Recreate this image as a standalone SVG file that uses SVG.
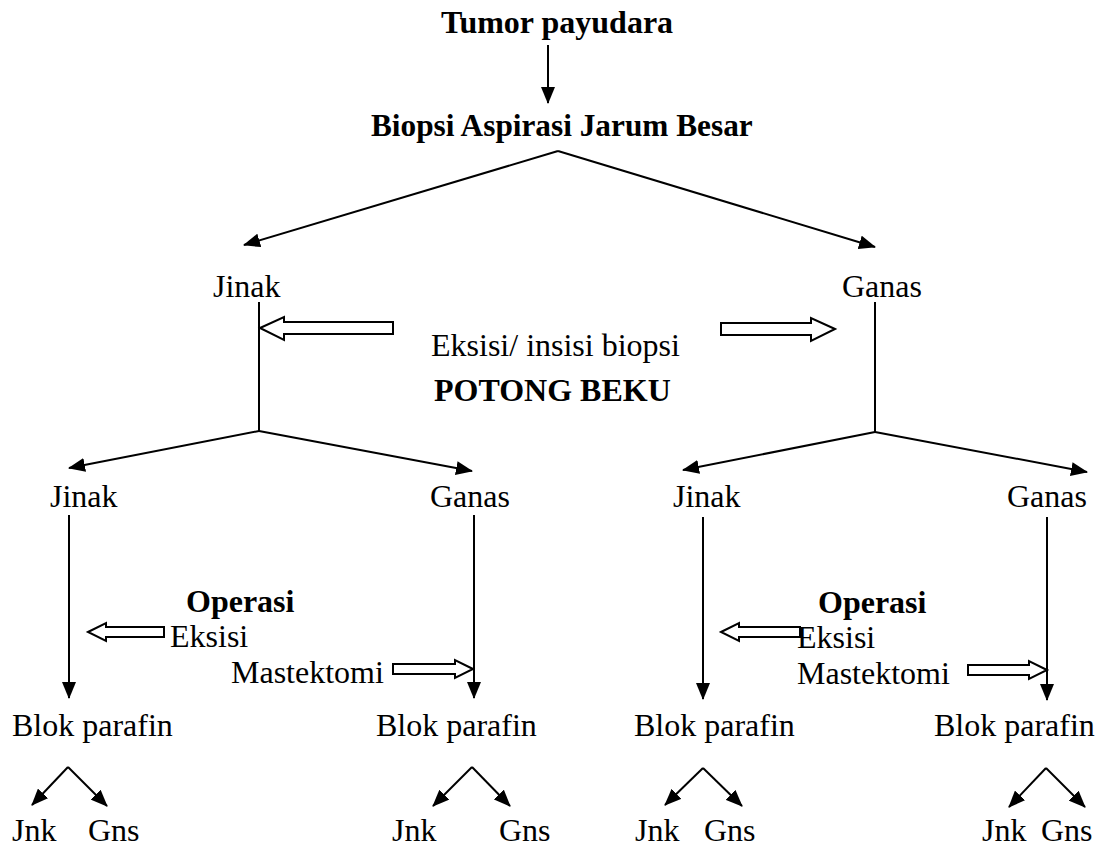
<svg xmlns="http://www.w3.org/2000/svg" width="1109" height="849" viewBox="0 0 1109 849">
<style>
  text { font-family: "Liberation Serif", "Times New Roman", serif; font-size: 32px; fill: #000; }
  .b { font-weight: bold; }
  .t { font-size: 31.3px; }
  .ln { stroke: #000; stroke-width: 2; fill: none; }
  .ar { stroke: #000; stroke-width: 2; fill: none; marker-end: url(#ah); }
  .ho { stroke: #000; stroke-width: 2; fill: #fff; stroke-linejoin: miter; }
</style>
<defs>
  <marker id="ah" markerUnits="userSpaceOnUse" markerWidth="18" markerHeight="14" refX="16" refY="7" orient="auto" viewBox="0 0 18 14">
    <path d="M0,0 L17,7 L0,14 z" fill="#000"/>
  </marker>
</defs>
<rect width="1109" height="849" fill="#fff"/>

<g id="connectors">
  <line class="ar" x1="548" y1="45" x2="548" y2="103"/>
  <line class="ar" x1="558" y1="151" x2="244" y2="245"/>
  <line class="ar" x1="558" y1="151" x2="875" y2="247"/>
  <line class="ln" x1="259" y1="302" x2="259" y2="431"/>
  <line class="ln" x1="875" y1="302" x2="875" y2="432"/>
  <line class="ar" x1="259" y1="431" x2="69" y2="468"/>
  <line class="ar" x1="259" y1="431" x2="472" y2="471"/>
  <line class="ar" x1="875" y1="432" x2="683" y2="470"/>
  <line class="ar" x1="875" y1="432" x2="1087" y2="472"/>
  <line class="ar" x1="69" y1="515" x2="69" y2="698"/>
  <line class="ar" x1="474" y1="515" x2="474" y2="698"/>
  <line class="ar" x1="703" y1="517" x2="703" y2="699"/>
  <line class="ar" x1="1047" y1="517" x2="1047" y2="700"/>
  <line class="ar" x1="68" y1="767" x2="32" y2="805"/>
  <line class="ar" x1="68" y1="767" x2="107" y2="806"/>
  <line class="ar" x1="472" y1="767" x2="433" y2="806"/>
  <line class="ar" x1="472" y1="767" x2="510" y2="806"/>
  <line class="ar" x1="703" y1="768" x2="665" y2="805"/>
  <line class="ar" x1="703" y1="768" x2="742" y2="806"/>
  <line class="ar" x1="1046" y1="768" x2="1009" y2="807"/>
  <line class="ar" x1="1046" y1="768" x2="1085" y2="807"/>
  <!-- hollow arrows -->
  <polygon class="ho" points="260,328 284,317 284,322 393,322 393,334 284,334 284,340"/>
  <polygon class="ho" points="835,329 811,318 811,323 721,323 721,335 811,335 811,341"/>
  <polygon class="ho" points="88,632 106,623 106,627 164,627 164,637 106,637 106,641"/>
  <polygon class="ho" points="473,669 455,660 455,664 393,664 393,674 455,674 455,678"/>
  <polygon class="ho" points="721,632 739,623 739,627 800,627 800,637 739,637 739,641"/>
  <polygon class="ho" points="1047,670 1029,661 1029,665 968,665 968,675 1029,675 1029,679"/>
</g>

<g id="n-tumor"><text class="b" x="441" y="33">Tumor payudara</text></g>
<g id="n-biopsi"><text class="b t" x="371" y="136">Biopsi Aspirasi Jarum Besar</text></g>
<g id="n-jinak1"><text x="213" y="297">Jinak</text></g>
<g id="n-ganas1"><text x="842" y="297">Ganas</text></g>
<g id="n-eksisi-insisi"><text x="431" y="356">Eksisi/ insisi biopsi</text></g>
<g id="n-potong"><text class="b" x="434" y="401">POTONG BEKU</text></g>

<g id="n-jinak2a"><text x="50" y="507">Jinak</text></g>
<g id="n-ganas2a"><text x="430" y="507">Ganas</text></g>
<g id="n-jinak2b"><text x="673" y="507">Jinak</text></g>
<g id="n-ganas2b"><text x="1007" y="507">Ganas</text></g>

<g id="n-operasi-a">
  <text class="b" x="186" y="612">Operasi</text>
  <text x="170" y="647">Eksisi</text>
  <text x="231" y="683">Mastektomi</text>
</g>
<g id="n-operasi-b">
  <text class="b" x="818" y="613">Operasi</text>
  <text x="797" y="648">Eksisi</text>
  <text x="797" y="684">Mastektomi</text>
</g>

<g id="n-blok1"><text x="12" y="736">Blok parafin</text></g>
<g id="n-blok2"><text x="376" y="736">Blok parafin</text></g>
<g id="n-blok3"><text x="634" y="736">Blok parafin</text></g>
<g id="n-blok4"><text x="934" y="736">Blok parafin</text></g>

<g id="n-leaf1"><text x="12" y="841">Jnk</text><text x="88" y="841">Gns</text></g>
<g id="n-leaf2"><text x="392" y="841">Jnk</text><text x="499" y="841">Gns</text></g>
<g id="n-leaf3"><text x="635" y="841">Jnk</text><text x="704" y="841">Gns</text></g>
<g id="n-leaf4"><text x="982" y="841">Jnk</text><text x="1041" y="841">Gns</text></g>
</svg>
